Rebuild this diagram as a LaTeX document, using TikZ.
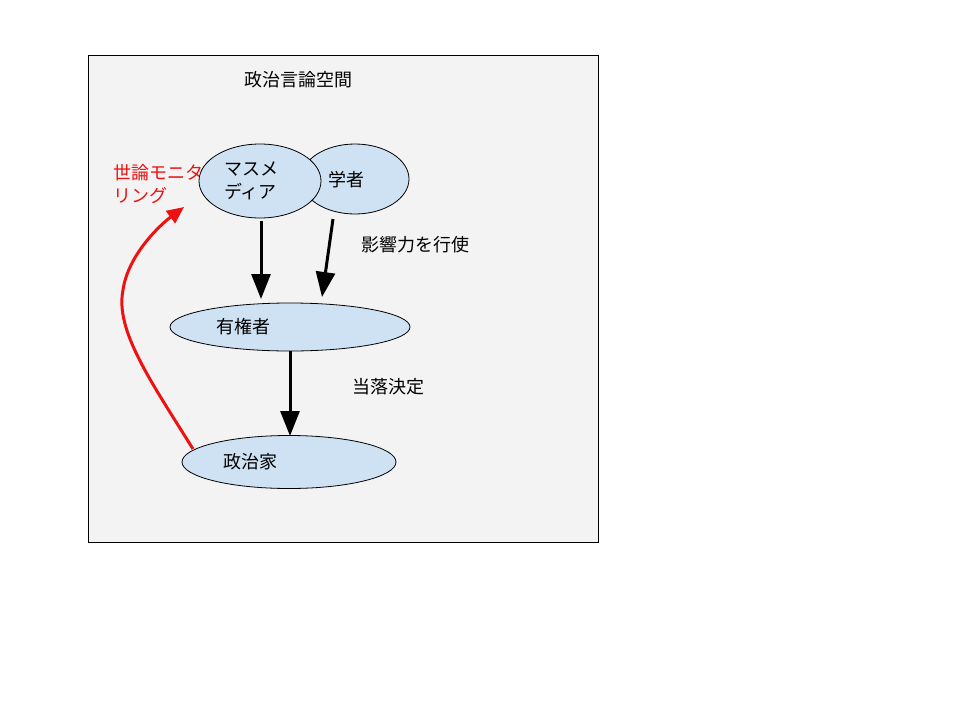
\documentclass[tikz,border=0pt]{standalone}
\usepackage{fontspec}
\setmainfont{Noto Sans CJK JP}
\usetikzlibrary{arrows.meta,shapes.geometric}
\definecolor{bgc}{HTML}{F3F3F3}
\definecolor{ellc}{HTML}{CFE2F3}
\definecolor{redc}{HTML}{EE1111}
\begin{document}
\begin{tikzpicture}[x=1pt,y=-1pt,
  every node/.style={font=\fontsize{18}{23}\selectfont, inner sep=0pt},
  ell/.style={ellipse, draw=black, line width=0.8pt, fill=ellc},
  bigarrow/.style={line width=3pt, -{Triangle[length=25pt,width=19pt]}},
  redarrow/.style={draw=redc, line width=3pt, -{Triangle[length=17pt,width=15pt]}}]
\useasboundingbox (0,0) rectangle (960,720);
\node[draw=black, line width=0.6pt, fill=bgc, minimum width=510pt, minimum height=487pt, anchor=north west] (frame) at (88,55) {};
\node (title) at (298,80) {政治言論空間};
% ellipses
\node[ell, minimum width=108pt, minimum height=70pt] (gakusha) at (355,179) {};
\node[ell, minimum width=122pt, minimum height=74pt] (media) at (260,181) {};
\node[ell, minimum width=240pt, minimum height=48pt] (yuken) at (290,327) {};
\node[ell, minimum width=214pt, minimum height=53pt] (seiji) at (289,462) {};
% texts
\node[align=left] (mediat) at (251,181) {マスメ\\ディア};
\node (gakushat) at (346,180) {学者};
\node (yukent) at (243,327) {有権者};
\node (seijit) at (250,462) {政治家};
\node (eikyo) at (415,245) {影響力を行使};
\node (toraku) at (388,387) {当落決定};
\node[align=left, text=redc, anchor=west] (monitor) at (113,184) {世論モニタ\\リング};
% arrow endpoints
\coordinate (a1s) at (261,221);
\coordinate (a1e) at (261,299);
\coordinate (a2s) at (333,219);
\coordinate (a2e) at (322,297);
\coordinate (a3s) at (290,351);
\coordinate (a3e) at (290,436);
\coordinate (rs) at (193,449);
\coordinate (rm) at (123,290);
\coordinate (re) at (184,207);
\draw[bigarrow] (a1s) -- (a1e);
\draw[bigarrow] (a2s) -- (a2e);
\draw[bigarrow] (a3s) -- (a3e);
\draw[redarrow] (rs) .. controls (150,380) and (115,330) .. (rm) .. controls (128,255) and (160,225) .. (re);
\end{tikzpicture}
\end{document}
